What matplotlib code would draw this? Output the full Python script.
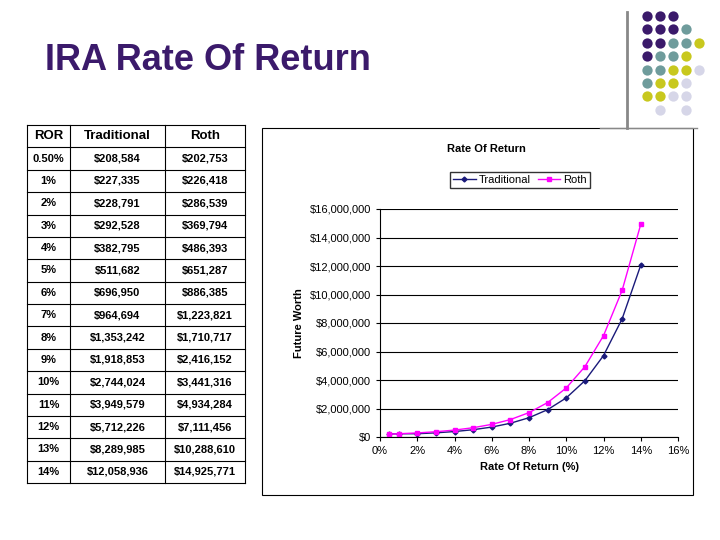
import matplotlib
matplotlib.use("Agg")
import matplotlib.pyplot as plt
from matplotlib.ticker import FuncFormatter

plt.rcParams["font.family"] = "Liberation Sans"

ror_labels  = ["0.50%", "1%", "2%", "3%", "4%", "5%", "6%", "7%", "8%", "9%",
               "10%", "11%", "12%", "13%", "14%"]
ror_values  = [0.5, 1, 2, 3, 4, 5, 6, 7, 8, 9, 10, 11, 12, 13, 14]
traditional = [208584, 227335, 228791, 292528, 382795, 511682, 696950, 964694,
               1353242, 1918853, 2744024, 3949579, 5712226, 8289985, 12058936]
roth        = [202753, 226418, 286539, 369794, 486393, 651287, 886385, 1223821,
               1710717, 2416152, 3441316, 4934284, 7111456, 10288610, 14925771]

PURPLE = "#3b1a6b"
TEAL   = "#6f9c9c"
YELLOW = "#c8c81e"
LILAC  = "#d6d6e8"
dot_grid = [
    "PPP", "PPPT", "PPTTY", "PTTY", "TTYYL", "TYYL", "YYLL", " L L",
]
dot_colors = {"P": PURPLE, "T": TEAL, "Y": YELLOW, "L": LILAC}

W, H = 720, 540
fig = plt.figure(figsize=(7.2, 5.4), dpi=100)
fig.patch.set_facecolor("white")

def px(x, y):
    return x / W, 1 - y / H

# ── Decorations ───────────────────────────────────────────────────────────────
bg = fig.add_axes([0, 0, 1, 1])
bg.set_xlim(0, W)
bg.set_ylim(H, 0)
bg.axis("off")
bg.plot([627, 627], [12, 128], color="#888888", lw=2)
bg.plot([600, 697], [128, 128], color="#888888", lw=1)
for r, row in enumerate(dot_grid):
    for c, ch in enumerate(row):
        if ch in dot_colors:
            bg.scatter(647 + c * 13, 16 + r * 13.4, s=55, color=dot_colors[ch], lw=0)

bg.text(45, 60, "IRA Rate Of Return", fontsize=26, fontweight="bold",
        color=PURPLE, va="center", ha="left")

# ── Table ─────────────────────────────────────────────────────────────────────
cols = [27, 70, 165, 245]
top, bottom = 125, 483
nrows = len(ror_labels) + 1
rh = (bottom - top) / nrows
for i in range(nrows + 1):
    bg.plot([cols[0], cols[-1]], [top + i * rh] * 2, color="black", lw=0.8)
for x in cols:
    bg.plot([x, x], [top, bottom], color="black", lw=0.8)
headers = ["ROR", "Traditional", "Roth"]
for j, h in enumerate(headers):
    bg.text((cols[j] + cols[j + 1]) / 2, top + rh / 2, h, ha="center",
            va="center", fontsize=9.5, fontweight="bold")
for i in range(len(ror_labels)):
    y = top + (i + 1.5) * rh
    vals = [ror_labels[i], f"${traditional[i]:,}", f"${roth[i]:,}"]
    for j, v in enumerate(vals):
        bg.text((cols[j] + cols[j + 1]) / 2, y, v, ha="center", va="center",
                fontsize=8, fontweight="bold")

# ── Chart box ─────────────────────────────────────────────────────────────────
bg.add_patch(plt.Rectangle((262, 128), 431, 367, fill=False, ec="black", lw=0.8))
bg.text(486, 149, "Rate Of Return", ha="center", va="center", fontsize=8,
        fontweight="bold")

x0, y0 = px(380, 437)
x1, y1 = px(678, 209)
ax = fig.add_axes([x0, y0, x1 - x0, y1 - y0])
ax.plot(ror_values, traditional, color="#1a1a7a", marker="D", ms=2.5, lw=1,
        label="Traditional")
ax.plot(ror_values, roth, color="#ff00ff", marker="s", ms=2.5, lw=1, label="Roth")
ax.set_xlim(0, 16)
ax.set_ylim(0, 16000000)
ax.set_xticks(range(0, 17, 2))
ax.set_yticks(range(0, 16000001, 2000000))
ax.xaxis.set_major_formatter(FuncFormatter(lambda v, _: f"{v:.0f}%"))
ax.yaxis.set_major_formatter(FuncFormatter(lambda v, _: f"${v:,.0f}"))
ax.grid(axis="y", color="black", lw=0.8)
ax.set_axisbelow(True)
ax.tick_params(labelsize=8, length=3)
for s in ["top", "right"]:
    ax.spines[s].set_visible(False)
ax.set_xlabel("Rate Of Return (%)", fontsize=8, fontweight="bold")
ax.set_ylabel("Future Worth", fontsize=8, fontweight="bold")
ax.legend(loc="center", bbox_to_anchor=((520 - 380) / 298, (437 - 180) / 228),
          ncol=2, fontsize=8, frameon=True, fancybox=False, edgecolor="black",
          handlelength=2, columnspacing=0.6, borderpad=0.3, handletextpad=0.3)

fig.savefig("out.png", dpi=100, facecolor="white")
